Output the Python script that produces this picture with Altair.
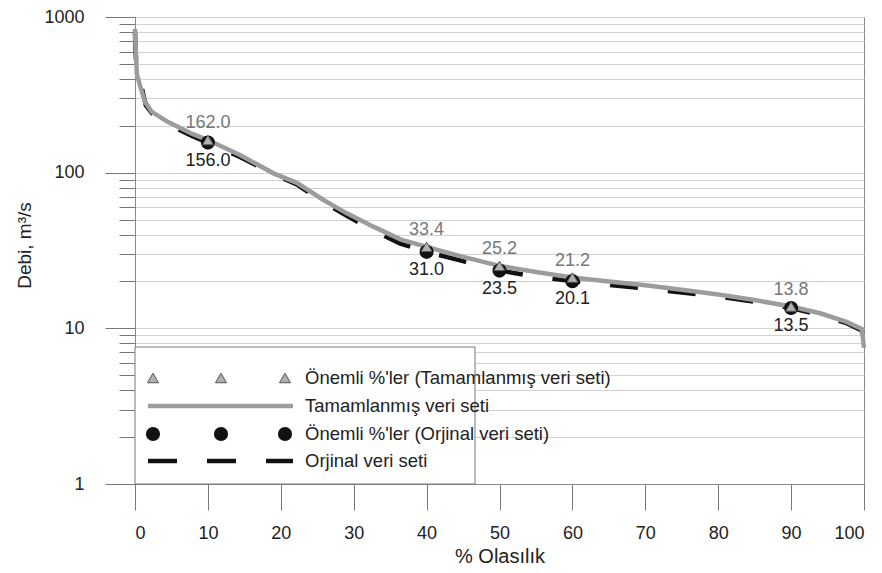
import altair as alt
import pandas as pd

# ---- data ----
pct_tam = [0, 0.05, 0.15, 0.25, 0.7, 1.4, 2.3, 4.5, 7.8, 10, 14.4, 19, 22.2, 25.8, 29, 32.7,
           36.4, 40, 45, 50, 55, 60, 65, 70, 75, 80, 85, 90, 94, 97.6, 99.7, 100]
q_tam = [840, 700, 560, 430, 361, 283, 246, 212, 178, 162, 130, 99, 86, 67, 55, 45,
         37.3, 33.4, 28.8, 25.2, 23.0, 21.2, 20.0, 18.9, 17.7, 16.5, 15.2, 13.8, 12.5, 11.0, 9.9, 7.5]

pct_orj = [0, 0.05, 0.15, 0.5, 1.0, 1.5, 2.5, 4.5, 7.8, 10, 14.4, 19, 22.2, 25.8, 29, 32.7,
           36.4, 40, 45, 50, 55, 60, 65, 70, 75, 80, 85, 90, 94, 97.6, 99.7, 100]
q_orj = [800, 650, 520, 400, 340, 270, 235, 205, 172, 156, 126, 98, 84, 65, 53, 42.5,
         35, 31, 27, 23.5, 21.5, 20.1, 19.0, 18.0, 17.0, 16.0, 14.8, 13.5, 12.2, 10.8, 9.7, 7.3]

key_pct = [10, 40, 50, 60, 90]
key_tam = [162.0, 33.4, 25.2, 21.2, 13.8]
key_orj = [156.0, 31.0, 23.5, 20.1, 13.5]

legend_labels = ["Önemli %'ler (Tamamlanmış veri seti)", "Tamamlanmış veri seti",
                 "Önemli %'ler (Orjinal veri seti)", "Orjinal veri seti"]

y_ticks = [m * 10 ** k for k in range(3) for m in range(1, 10)] + [1000]
x_ticks = list(range(0, 101, 5))

# ---- frames ----
df_tam = pd.DataFrame({"pct": pct_tam, "q": q_tam})
df_orj = pd.DataFrame({"pct": pct_orj, "q": q_orj})
df_ktam = pd.DataFrame({"pct": key_pct, "q": key_tam})
df_korj = pd.DataFrame({"pct": key_pct, "q": key_orj})
one = pd.DataFrame({"a": [0]})

W, H = 729, 467
FONT = "Liberation Sans"
GREY = "#9c9c9c"

xs = alt.Scale(domain=[0, 100], nice=False, zero=False)
ys = alt.Scale(type="log", domain=[1, 1000], nice=False)

x_axis = alt.Axis(
    values=x_ticks, grid=False, title="% Olasılık",
    tickSize={"condition": {"test": "datum.value % 10 === 0", "value": 26}, "value": 13},
    labelExpr="datum.value % 10 === 0 ? datum.label : ''",
    labelPadding=14, labelFontSize=18, titleFontSize=20,
    titleY=72, titleBaseline="middle", format="d",
)
y_axis = alt.Axis(
    values=y_ticks, grid=True, gridColor="#d2d2d2", gridWidth=1,
    title="Debi, m³/s",
    tickSize={"condition": {"test": "abs(log(datum.value)/LN10 - round(log(datum.value)/LN10)) < 1e-6",
                            "value": 30}, "value": 16},
    labelExpr="abs(log(datum.value)/LN10 - round(log(datum.value)/LN10)) < 1e-6 ? format(datum.value, 'd') : ''",
    labelPadding=21, labelFontSize=18, titleFontSize=19,
    titleX=-111, titleY=228, titleBaseline="middle", titleAlign="center",
)

orj_line = alt.Chart(df_orj).mark_line(color="#111", strokeWidth=4.5, strokeDash=[28, 30]).encode(
    x=alt.X("pct:Q", scale=xs, axis=x_axis),
    y=alt.Y("q:Q", scale=ys, axis=y_axis),
)
tam_line = alt.Chart(df_tam).mark_line(color=GREY, strokeWidth=4.5).encode(
    x=alt.X("pct:Q", scale=xs), y=alt.Y("q:Q", scale=ys))

orj_pts = alt.Chart(df_korj).mark_point(shape="circle", filled=True, color="#111", size=200, opacity=1).encode(
    x=alt.X("pct:Q", scale=xs), y=alt.Y("q:Q", scale=ys))
tam_pts = alt.Chart(df_ktam).mark_point(shape="triangle-up", filled=True, fill="#b0b0b0", stroke="#555",
                                        strokeWidth=1, size=120, opacity=1).encode(
    x=alt.X("pct:Q", scale=xs), y=alt.Y("q:Q", scale=ys))

tam_txt = alt.Chart(df_ktam).mark_text(dy=-17, fontSize=18, color="#777", font=FONT).encode(
    x=alt.X("pct:Q", scale=xs), y=alt.Y("q:Q", scale=ys), text=alt.Text("q:Q", format=".1f"))
orj_txt = alt.Chart(df_korj).mark_text(dy=18, fontSize=18, color="#222", font=FONT).encode(
    x=alt.X("pct:Q", scale=xs), y=alt.Y("q:Q", scale=ys), text=alt.Text("q:Q", format=".1f"))

# ---- legend (drawn in pixel space inside the plot) ----
LX0, LX1, LY0, LY1 = 0, 340, 330, 467
rows_y = [361, 389, 417, 444]
sym_x = [18, 86, 150]
dash_x = [(13, 42), (72, 101), (131, 158)]

leg = [alt.Chart(one).mark_rect(fill="white", stroke="#777", strokeWidth=1).encode(
    x=alt.value(LX0), x2=alt.value(LX1), y=alt.value(LY0), y2=alt.value(LY1))]
for sx in sym_x:
    leg.append(alt.Chart(one).mark_point(shape="triangle-up", filled=True, fill="#b0b0b0", stroke="#555",
                                         strokeWidth=1, size=120, opacity=1).encode(
        x=alt.value(sx), y=alt.value(rows_y[0])))
    leg.append(alt.Chart(one).mark_point(shape="circle", filled=True, color="#111", size=200, opacity=1).encode(
        x=alt.value(sx), y=alt.value(rows_y[2])))
leg.append(alt.Chart(one).mark_rule(color=GREY, strokeWidth=4.5).encode(
    x=alt.value(13), x2=alt.value(158), y=alt.value(rows_y[1])))
for a, b in dash_x:
    leg.append(alt.Chart(one).mark_rule(color="#111", strokeWidth=4.5).encode(
        x=alt.value(a), x2=alt.value(b), y=alt.value(rows_y[3])))
for lbl, ry in zip(legend_labels, rows_y):
    leg.append(alt.Chart(pd.DataFrame({"t": [lbl]})).mark_text(
        align="left", baseline="middle", fontSize=18.5, color="#222", font=FONT).encode(
        x=alt.value(170), y=alt.value(ry), text="t:N"))

chart = alt.layer(orj_line, tam_line, orj_pts, tam_pts, tam_txt, orj_txt, *leg).properties(
    width=W, height=H,
    autosize=alt.AutoSizeParams(type="none"),
    padding={"left": 127, "top": 9, "right": 10, "bottom": 81},
).configure_view(stroke="#888", strokeWidth=1).configure_axis(
    labelFont=FONT, titleFont=FONT, labelColor="#222", titleColor="#222", titleFontWeight="normal",
    domainColor="#888", tickColor="#777", domainWidth=1, tickWidth=1,
)

chart.save("out.html", embed_options={"renderer": "svg", "actions": False})
